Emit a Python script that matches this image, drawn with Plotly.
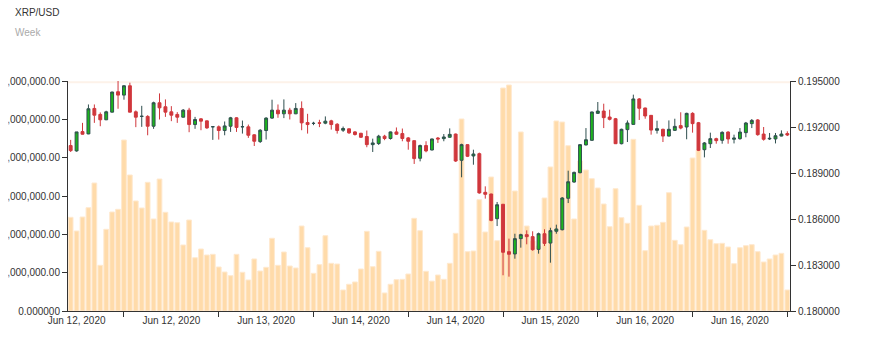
import pandas as pd
import plotly.graph_objects as go

# ---------------- data ----------------
start_time = "2020-06-12 07:00"
n_candles = 122
times = pd.date_range(start_time, periods=n_candles, freq="h")

opens = [0.19079, 0.19044, 0.19170, 0.19155, 0.19321, 0.19282, 0.19247, 0.19297, 0.19430, 0.19408,
         0.19469, 0.19299, 0.19269, 0.19269, 0.19205, 0.19358, 0.19332, 0.19299, 0.19282, 0.19264,
         0.19310, 0.19216, 0.19253, 0.19240, 0.19201, 0.19201, 0.19177, 0.19205, 0.19260, 0.19201,
         0.19201, 0.19149, 0.19105, 0.19177, 0.19258, 0.19310, 0.19286, 0.19310, 0.19286, 0.19321,
         0.19229, 0.19223, 0.19227, 0.19225, 0.19240, 0.19218, 0.19179, 0.19188, 0.19168, 0.19159,
         0.19138, 0.19085, 0.19092, 0.19140, 0.19125, 0.19168, 0.19157, 0.19129, 0.19111, 0.18996,
         0.19079, 0.19050, 0.19128, 0.19124, 0.19133, 0.19154, 0.18983, 0.19085, 0.19011, 0.19026,
         0.18774, 0.18763, 0.18602, 0.18696, 0.18387, 0.18372, 0.18472, 0.18498, 0.18485, 0.18402,
         0.18504, 0.18443, 0.18520, 0.18530, 0.18735, 0.18841, 0.18902, 0.19083, 0.19113, 0.19289,
         0.19304, 0.19265, 0.19254, 0.19091, 0.19183, 0.19217, 0.19383, 0.19324, 0.19276, 0.19178,
         0.19185, 0.19141, 0.19178, 0.19209, 0.19200, 0.19289, 0.19228, 0.19052, 0.19091, 0.19124,
         0.19113, 0.19167, 0.19120, 0.19124, 0.19163, 0.19222, 0.19246, 0.19154, 0.19122, 0.19122,
         0.19141, 0.19157]
highs = [0.19116, 0.19168, 0.19227, 0.19347, 0.19347, 0.19295, 0.19306, 0.19430, 0.19500, 0.19472,
         0.19489, 0.19308, 0.19338, 0.19277, 0.19365, 0.19419, 0.19380, 0.19336, 0.19297, 0.19317,
         0.19325, 0.19266, 0.19258, 0.19242, 0.19205, 0.19210, 0.19236, 0.19266, 0.19264, 0.19242,
         0.19216, 0.19153, 0.19186, 0.19264, 0.19378, 0.19347, 0.19380, 0.19325, 0.19356, 0.19367,
         0.19286, 0.19234, 0.19247, 0.19269, 0.19247, 0.19225, 0.19203, 0.19190, 0.19173, 0.19162,
         0.19177, 0.19124, 0.19149, 0.19149, 0.19170, 0.19197, 0.19190, 0.19135, 0.19111, 0.19085,
         0.19107, 0.19124, 0.19135, 0.19154, 0.19191, 0.19157, 0.19091, 0.19087, 0.19052, 0.19033,
         0.18813, 0.18765, 0.18711, 0.18698, 0.18472, 0.18504, 0.18504, 0.18526, 0.18520, 0.18511,
         0.18533, 0.18543, 0.18563, 0.18743, 0.18915, 0.18909, 0.19087, 0.19193, 0.19300, 0.19363,
         0.19352, 0.19313, 0.19259, 0.19189, 0.19243, 0.19411, 0.19389, 0.19326, 0.19278, 0.19241,
         0.19189, 0.19243, 0.19254, 0.19296, 0.19293, 0.19296, 0.19233, 0.19102, 0.19163, 0.19130,
         0.19172, 0.19172, 0.19150, 0.19193, 0.19233, 0.19252, 0.19252, 0.19200, 0.19161, 0.19161,
         0.19178, 0.19172]
lows = [0.19037, 0.19039, 0.19151, 0.19153, 0.19227, 0.19205, 0.19245, 0.19295, 0.19319, 0.19378,
        0.19295, 0.19199, 0.19201, 0.19146, 0.19188, 0.19249, 0.19266, 0.19238, 0.19227, 0.19262,
        0.19166, 0.19188, 0.19179, 0.19188, 0.19116, 0.19118, 0.19146, 0.19168, 0.19168, 0.19157,
        0.19129, 0.19076, 0.19096, 0.19118, 0.19253, 0.19260, 0.19258, 0.19249, 0.19284, 0.19179,
        0.19157, 0.19212, 0.19199, 0.19218, 0.19183, 0.19157, 0.19168, 0.19155, 0.19144, 0.19129,
        0.19068, 0.19037, 0.19083, 0.19114, 0.19118, 0.19149, 0.19107, 0.19052, 0.18959, 0.18976,
        0.19035, 0.19048, 0.19096, 0.19107, 0.19130, 0.18972, 0.18872, 0.19004, 0.18954, 0.18765,
        0.18733, 0.18585, 0.18554, 0.18233, 0.18224, 0.18341, 0.18413, 0.18435, 0.18393, 0.18374,
        0.18424, 0.18315, 0.18504, 0.18526, 0.18704, 0.18837, 0.18898, 0.19080, 0.19111, 0.19285,
        0.19193, 0.19243, 0.19089, 0.19087, 0.19102, 0.19215, 0.19246, 0.19254, 0.19150, 0.19157,
        0.19102, 0.19139, 0.19174, 0.19185, 0.19120, 0.19163, 0.19043, 0.19002, 0.19063, 0.19091,
        0.19091, 0.19091, 0.19093, 0.19117, 0.19133, 0.19193, 0.19143, 0.19111, 0.19115, 0.19093,
        0.19139, 0.19141]
closes = [0.19046, 0.19168, 0.19153, 0.19319, 0.19277, 0.19247, 0.19299, 0.19428, 0.19408, 0.19469,
          0.19297, 0.19264, 0.19270, 0.19205, 0.19358, 0.19325, 0.19297, 0.19277, 0.19264, 0.19310,
          0.19216, 0.19249, 0.19238, 0.19194, 0.19202, 0.19177, 0.19207, 0.19260, 0.19197, 0.19202,
          0.19146, 0.19107, 0.19179, 0.19258, 0.19310, 0.19286, 0.19310, 0.19286, 0.19321, 0.19227,
          0.19216, 0.19224, 0.19225, 0.19238, 0.19216, 0.19177, 0.19190, 0.19162, 0.19151, 0.19133,
          0.19085, 0.19096, 0.19140, 0.19125, 0.19168, 0.19153, 0.19125, 0.19107, 0.18994, 0.19079,
          0.19044, 0.19122, 0.19122, 0.19135, 0.19152, 0.18978, 0.19085, 0.19009, 0.19024, 0.18770,
          0.18761, 0.18591, 0.18693, 0.18383, 0.18370, 0.18472, 0.18498, 0.18485, 0.18400, 0.18504,
          0.18441, 0.18524, 0.18535, 0.18737, 0.18843, 0.18904, 0.19085, 0.19117, 0.19298, 0.19304,
          0.19261, 0.19250, 0.19091, 0.19185, 0.19226, 0.19383, 0.19322, 0.19272, 0.19180, 0.19189,
          0.19141, 0.19185, 0.19204, 0.19193, 0.19289, 0.19222, 0.19048, 0.19096, 0.19124, 0.19111,
          0.19165, 0.19122, 0.19128, 0.19167, 0.19226, 0.19243, 0.19150, 0.19120, 0.19126, 0.19143,
          0.19154, 0.19148]
volume_millions = [24.44, 20.87, 24.52, 26.95, 33.39, 11.92, 21.31, 25.83, 26.53, 44.61,
                   35.48, 28.70, 26.87, 33.57, 24.00, 34.43, 25.75, 23.22, 23.03, 17.22,
                   23.74, 13.90, 16.17, 14.61, 14.79, 11.48, 10.17, 9.21, 14.79, 10.10,
                   8.09, 13.57, 10.43, 11.40, 18.97, 11.92, 15.39, 11.74, 11.22, 22.17,
                   16.51, 9.83, 12.08, 19.64, 12.44, 12.26, 5.48, 6.97, 7.57, 10.96,
                   20.79, 11.56, 15.57, 4.70, 6.97, 8.17, 8.27, 9.65, 24.18, 20.95,
                   10.36, 7.80, 9.39, 8.27, 12.44, 20.27, 50.09, 15.47, 15.65, 29.04,
                   20.61, 34.96, 18.34, 58.17, 58.96, 31.30, 46.70, 22.17, 18.26, 16.96,
                   29.48, 37.57, 49.57, 49.30, 43.12, 24.00, 39.13, 36.78, 34.51, 32.09,
                   27.91, 21.99, 31.90, 24.34, 22.88, 44.79, 27.57, 15.73, 22.17, 22.36,
                   23.14, 30.86, 18.44, 17.30, 21.91, 39.91, 42.00, 21.05, 18.60, 17.56,
                   17.66, 16.70, 12.34, 16.51, 17.04, 17.30, 15.47, 12.78, 13.57, 14.61,
                   15.05, 5.48]

x_tick_labels = ["Jun 12, 2020", "Jun 12, 2020", "Jun 13, 2020", "Jun 14, 2020",
                 "Jun 14, 2020", "Jun 15, 2020", "Jun 16, 2020", "Jun 16, 2020"]
volume_tick_values = [0, 10, 20, 30, 40, 50, 60]
volume_tick_labels = ["0.000000", "10,000,000.00", "20,000,000.00", "30,000,000.00",
                      "40,000,000.00", "50,000,000.00", "60,000,000.00"]
price_tick_values = [0.180, 0.183, 0.186, 0.189, 0.192, 0.195]

title_text = "XRP/USD"
subtitle_text = "Week"

# ---------------- figure ----------------
FONT = "Liberation Sans, Arial, sans-serif"
AXIS = "#333333"

tick_times = list(times[9::16])
label_times = list(times[1::16])
pad = pd.Timedelta(minutes=27)

fig = go.Figure()
fig.add_trace(go.Bar(
    x=times, y=volume_millions, yaxis="y",
    marker=dict(color="#FFDBAA", line=dict(color="#FFE9CF", width=1)),
    showlegend=False, hoverinfo="skip",
))
fig.add_trace(go.Candlestick(
    x=times, open=opens, high=highs, low=lows, close=closes, yaxis="y2",
    increasing=dict(line=dict(color="#2F4F4F", width=1), fillcolor="#1DB51D"),
    decreasing=dict(line=dict(color="#D0373C", width=1), fillcolor="#D0373C"),
    whiskerwidth=0, showlegend=False,
))

fig.update_layout(
    width=874, height=343, autosize=False,
    margin=dict(l=68, r=84, t=81, b=32, autoexpand=False),
    paper_bgcolor="white", plot_bgcolor="white",
    font=dict(family=FONT, size=10, color=AXIS),
    bargap=0.2,
    showlegend=False,
    xaxis=dict(
        type="date", automargin=False,
        range=[times[0] - pad, times[-1] + pad],
        rangeslider=dict(visible=False),
        showgrid=False, zeroline=False,
        showline=True, linecolor=AXIS, linewidth=1,
        tickmode="array", tickvals=label_times, ticktext=x_tick_labels,
        ticks="", tickfont=dict(size=10, color=AXIS),
        minor=dict(tickmode="array", tickvals=tick_times, ticks="outside",
                   ticklen=5, tickcolor=AXIS, tickwidth=1, showgrid=False),
    ),
    yaxis=dict(
        range=[0, 60], showgrid=False, zeroline=False, automargin=False,
        showline=True, linecolor=AXIS, linewidth=1,
        tickmode="array", tickvals=volume_tick_values, ticktext=volume_tick_labels,
        ticks="outside", ticklen=5, tickcolor=AXIS,
        tickfont=dict(size=10, color=AXIS),
    ),
    yaxis2=dict(
        overlaying="y", side="right", range=[0.180, 0.195], automargin=False,
        showgrid=False, zeroline=False,
        showline=True, linecolor=AXIS, linewidth=1,
        tickmode="array", tickvals=price_tick_values, tickformat=".6f",
        ticks="outside", ticklen=5, tickcolor=AXIS,
        tickfont=dict(size=10, color=AXIS),
    ),
    annotations=[
        dict(text=title_text, xref="paper", yref="paper", x=(13 - 68) / 722, y=(311 - 12.5) / 230,
             xanchor="left", yanchor="middle", showarrow=False,
             font=dict(family=FONT, size=10, color="#333333")),
        dict(text=subtitle_text, xref="paper", yref="paper", x=(13 - 68) / 722, y=(311 - 32.5) / 230,
             xanchor="left", yanchor="middle", showarrow=False,
             font=dict(family=FONT, size=10, color="#AAAAAA")),
    ],
    shapes=[
        # faint top band of the plot area
        dict(type="line", xref="paper", yref="paper", x0=0, x1=1, y0=0.995, y1=0.995,
             line=dict(color="#FDF2E9", width=2), layer="below"),
        # page edge clipping the left axis labels, as in the original
        dict(type="rect", xref="paper", yref="paper", x0=-0.2, x1=(8.3 - 68) / 722,
             y0=-0.1, y1=1.1, fillcolor="white", line=dict(width=0), layer="above"),
    ],
)

fig.write_html("out.html")
